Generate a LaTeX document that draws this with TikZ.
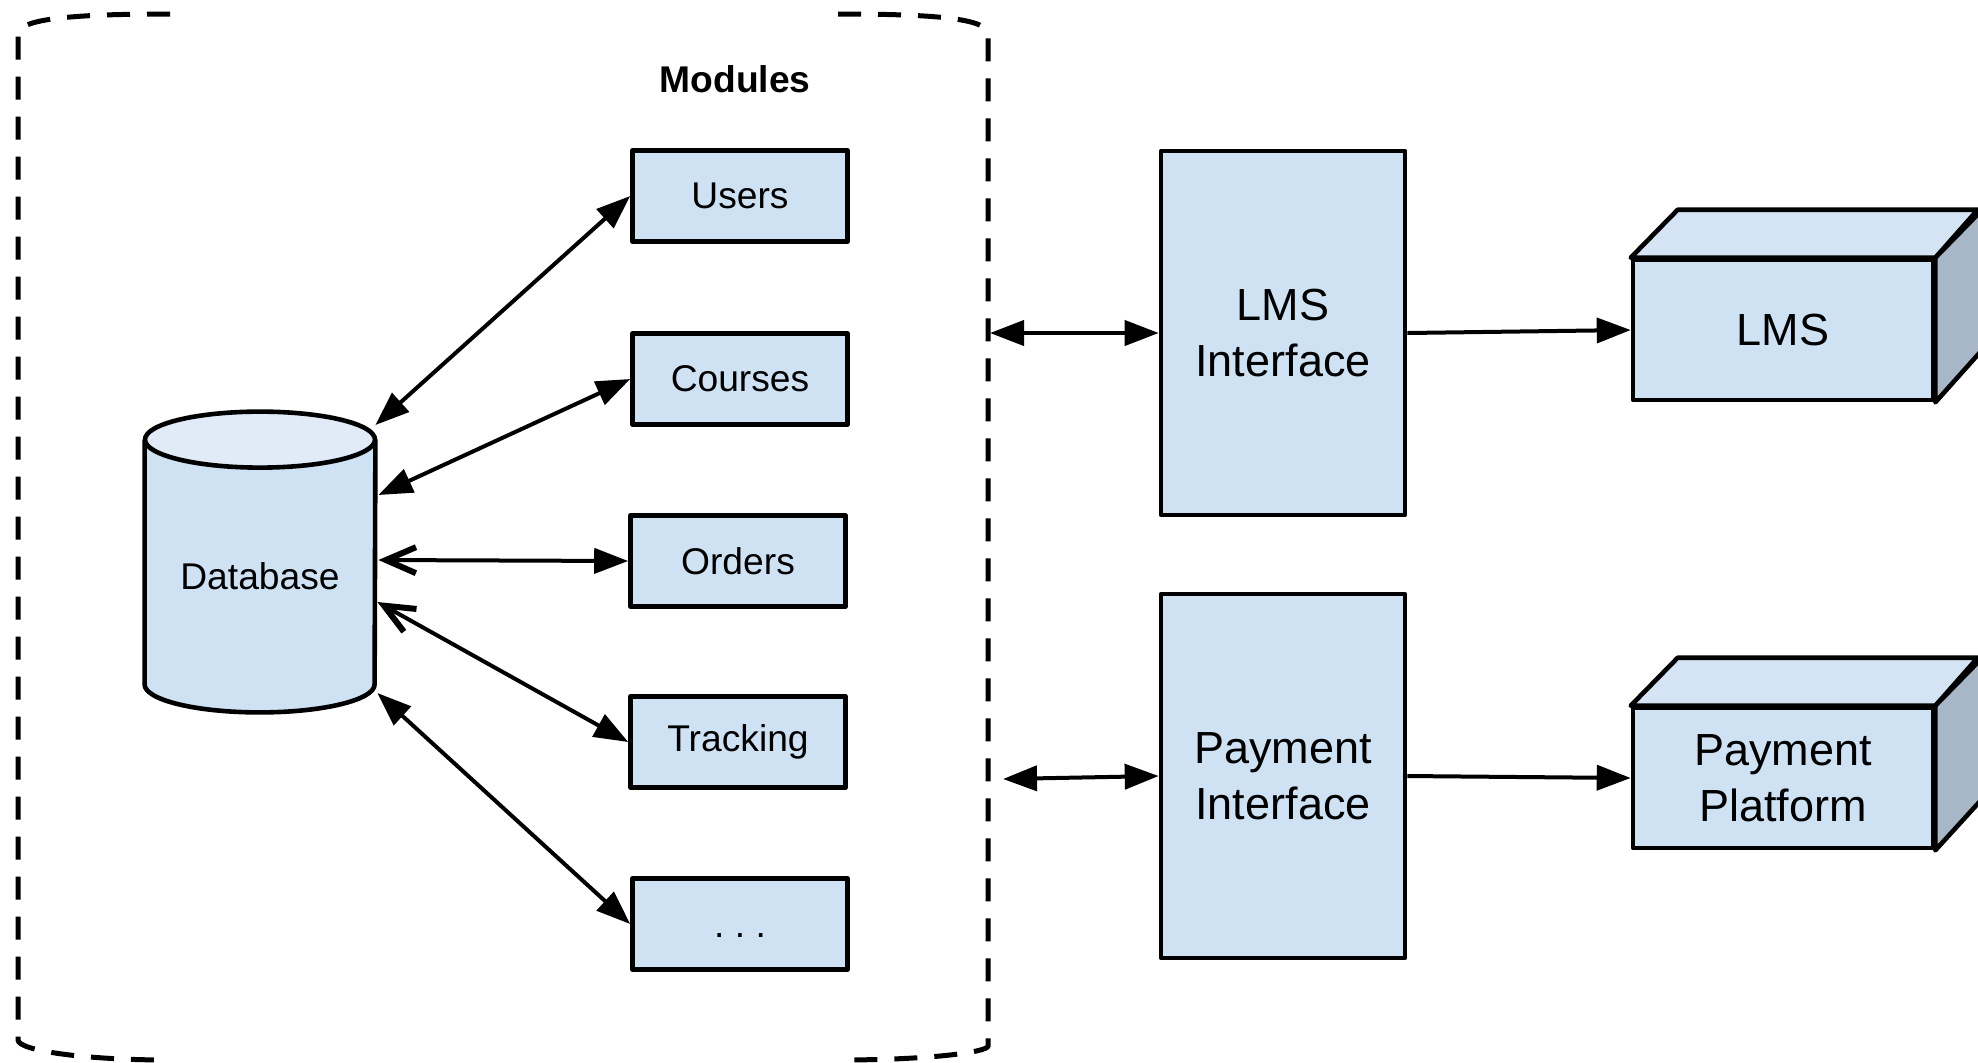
\documentclass[tikz,border=0pt]{standalone}
\usepackage{fontspec}
\setmainfont{Liberation Sans}
\usetikzlibrary{arrows.meta,calc}

\definecolor{boxfill}{HTML}{CFE2F3}
\definecolor{capfill}{HTML}{E0EBF7}
\definecolor{topfill}{HTML}{D5E4F4}
\definecolor{sidefill}{HTML}{A7B7C7}

\tikzset{
  solidtip/.tip={Triangle[length=17bp,width=12.5bp]},
  opentip/.tip={Straight Barb[length=15bp,width=13bp,line width=0pt 1.5]},
  smallfont/.style={font=\fontsize{18.6bp}{22bp}\selectfont},
  bigfont/.style={font=\fontsize{22.5bp}{27.75bp}\selectfont},
  outline/.style={draw, line width=2.3bp, line join=round},
  modbox/.style={outline, fill=boxfill, minimum width=107.5bp, minimum height=45.5bp,
    inner sep=0pt, smallfont},
  ifbox/.style={outline, fill=boxfill, minimum width=122bp, minimum height=182bp,
    inner sep=0pt, align=center, bigfont},
  frontface/.style={outline, fill=boxfill, minimum width=150bp, minimum height=70bp,
    inner sep=0pt, align=center, bigfont},
  link/.style={line width=2bp},
  container/.style={line width=2.5bp, dash pattern=on 11.5bp off 8.5bp},
}

\begin{document}
\begin{tikzpicture}[x=0.5bp,y=-0.5bp]
\useasboundingbox (0,0) rectangle (1978,1062);

% dashed container around the modules
\draw[container] (170,14) .. controls (80,14) and (18,18) .. (18,34)
  -- (18,1040) .. controls (18,1050) and (80,1060) .. (170,1060);
\draw[container] (838,14) .. controls (930,14) and (988,18) .. (988,34)
  -- (988,1046) .. controls (988,1052) and (930,1060) .. (838,1060);
\node[font=\fontsize{18.6bp}{22bp}\selectfont\bfseries] (title) at (735,79) {Modules};

% database cylinder: the node spans the body from cap centre to bottom
\node[minimum width=115bp, minimum height=136bp, inner sep=0pt] (db) at (260,576) {};
\fill[boxfill] (db.north west) -- ($(db.south west)+(0,-28)$)
  arc[start angle=180, end angle=0, x radius=115, y radius=28]
  -- (db.north east) -- cycle;
\draw[outline] (db.north west) -- ($(db.south west)+(0,-28)$)
  arc[start angle=180, end angle=0, x radius=115, y radius=28]
  -- (db.north east);
\draw[outline, fill=capfill] (db.north) ellipse [x radius=115, y radius=28];
\node[smallfont] (dblabel) at (db) {Database};

% module boxes
\node[modbox] (users)    at (740,196) {Users};
\node[modbox] (courses)  at (740,379) {Courses};
\node[modbox] (orders)   at (738,561) {Orders};
\node[modbox] (tracking) at (738,742) {Tracking};
\node[modbox] (more)     at (740,924) {\strut\raisebox{-2.5bp}{.\ .\ .}};

% database <-> modules
\draw[link, {solidtip}-{solidtip}] ($(db.east)+(0,-151)$) -- (users.west);
\draw[link, {solidtip}-{solidtip}] ($(db.east)+(3,-81)$) -- (courses.west);
\draw[link, {opentip}-{solidtip}] ($(db.east)+(3,-16)$) -- (orders.west);
\draw[link, {opentip}-{solidtip}] ($(db.east)+(2,26)$) -- (tracking.west);
\draw[link, {solidtip}-{solidtip}] ($(db.east)+(2,117)$) -- (more.west);

% interfaces
\node[ifbox] (lmsif) at (1283,333) {LMS\\Interface};
\node[ifbox] (payif) at (1283,776) {Payment\\Interface};

\coordinate (lmsport) at (990,333);
\coordinate (payport) at (1003,779);
\draw[link, {solidtip}-{solidtip}] (lmsport) -- (lmsif.west);
\draw[link, {solidtip}-{solidtip}] (payport) -- (payif.west);

% external systems drawn as boxes
\node[frontface] (lms) at (1783,330) {LMS};
\draw[outline, fill=topfill] (lms.north west) -- ++(47,-48) -- ++(300,0) -- (lms.north east) -- cycle;
\draw[outline, fill=sidefill] (lms.north east) -- ++(47,-48) -- ++(0,140) -- (lms.south east) -- cycle;

\node[frontface] (pay) at (1783,778) {Payment\\Platform};
\draw[outline, fill=topfill] (pay.north west) -- ++(47,-48) -- ++(300,0) -- (pay.north east) -- cycle;
\draw[outline, fill=sidefill] (pay.north east) -- ++(47,-48) -- ++(0,141) -- (pay.south east) -- cycle;

\draw[link, -{solidtip}] (lmsif.east) -- (lms.west);
\draw[link, -{solidtip}] (payif.east) -- (pay.west);
\end{tikzpicture}
\end{document}
